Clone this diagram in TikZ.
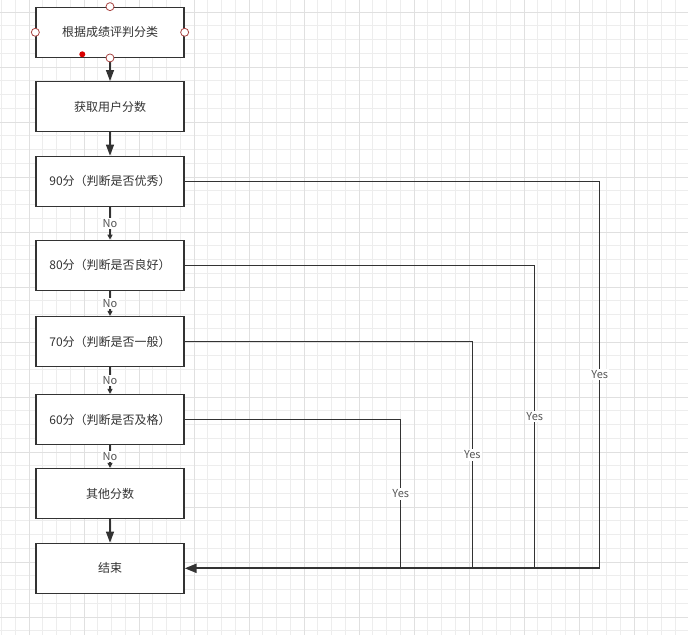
\documentclass[tikz,border=0pt]{standalone}
\usepackage{fontspec}
\setmainfont{Noto Sans CJK SC}
\usetikzlibrary{arrows.meta}
\definecolor{linec}{HTML}{333333}
\definecolor{txtc}{HTML}{333333}
\definecolor{lblc}{HTML}{555555}
\definecolor{gridminor}{HTML}{EDEDED}
\definecolor{gridmajor}{HTML}{E0E0E0}
\definecolor{handlec}{HTML}{A94442}
\tikzset{
  box/.style={draw=linec, line width=1.3pt, fill=white, minimum width=148pt, minimum height=50pt, inner sep=0pt, text=txtc, font=\fontsize{12}{14}\selectfont},
  conn/.style={draw=linec, line width=1.3pt},
  bigarr/.style={conn, -{Triangle[length=11pt,width=8pt]}},
  smallarr/.style={conn, -{Triangle[length=5pt,width=5pt]}},
  lbl/.style={fill=white, inner sep=1.5pt, text=lblc, font=\fontsize{11}{13}\selectfont},
  handle/.style={circle, draw=handlec, line width=0.8pt, fill=white, minimum size=8pt, inner sep=0pt},
  reddot/.style={circle, fill=red!85!black, minimum size=6pt, inner sep=0pt},
  gminor/.style={draw=gridminor, line width=1pt},
  gmajor/.style={draw=gridmajor, line width=1pt}
}
\begin{document}
\begin{tikzpicture}[x=1pt,y=-1pt]
\useasboundingbox (0,0) rectangle (688,635);
\fill[white] (0,0) rectangle (688,635);
% grid
\foreach \i in {0,...,50} {
  \pgfmathsetmacro\xx{1.5+13.75*\i}
  \draw[gminor] (\xx,0) -- (\xx,635);
}
\foreach \i in {0,...,46} {
  \pgfmathsetmacro\yy{12+13.75*\i}
  \draw[gminor] (0,\yy) -- (688,\yy);
}
\foreach \i in {0,...,11} {
  \pgfmathsetmacro\xx{29+55*\i}
  \pgfmathsetmacro\yy{12+55*\i}
  \draw[gmajor] (\xx,0) -- (\xx,635);
  \draw[gmajor] (0,\yy) -- (688,\yy);
}
% boxes
\node[box] (b1) at (110,32.3) {根据成绩评判分类};
\node[box] (b2) at (110,106.7) {获取用户分数};
\node[box] (b3) at (110,181.3) {90分（判断是否优秀）};
\node[box] (b4) at (110,265.3) {80分（判断是否良好）};
\node[box] (b5) at (110,341.5) {70分（判断是否一般）};
\node[box] (b6) at (110,419.5) {60分（判断是否及格）};
\node[box] (b7) at (110,493.5) {其他分数};
\node[box] (b8) at (110,568.3) {结束};
% main arrows
\draw[bigarr] (b1) -- (b2);
\draw[bigarr] (b2) -- (b3);
\draw[bigarr] (b7) -- (b8);
% No arrows
\draw[smallarr] (b3) -- node[lbl]{No} (b4);
\draw[smallarr] (b4) -- node[lbl]{No} (b5);
\draw[smallarr] (b5) -- node[lbl]{No} (b6);
\draw[smallarr] (b6) -- node[lbl]{No} (b7);
% Yes routes
\coordinate (t1) at (599.7,181.3); \coordinate (d1) at (599.7,568.3);
\coordinate (t2) at (534.7,265.3); \coordinate (d2) at (534.7,568.3);
\coordinate (t3) at (472.3,341.5); \coordinate (d3) at (472.3,568.3);
\coordinate (t4) at (400.7,419.5); \coordinate (d4) at (400.7,568.3);
\draw[conn] (b3.east) -- (t1) -- node[lbl]{Yes} (d1);
\draw[conn] (b4.east) -- (t2) -- node[lbl]{Yes} (d2);
\draw[conn] (b5.east) -- (t3) -- node[lbl]{Yes} (d3);
\draw[conn] (b6.east) -- (t4) -- node[lbl]{Yes} (d4);
\draw[conn, line width=2.2pt, line join=miter, -{Triangle[length=12pt,width=9pt]}] (d1) -- (b8.east);
% selection handles
\node[handle] (h1) at (b1.north) {};
\node[handle] (h2) at (b1.south) {};
\node[handle] (h3) at (b1.west) {};
\node[handle] (h4) at (b1.east) {};
\node[reddot] (rd) at (82.3,54.3) {};
\end{tikzpicture}
\end{document}
